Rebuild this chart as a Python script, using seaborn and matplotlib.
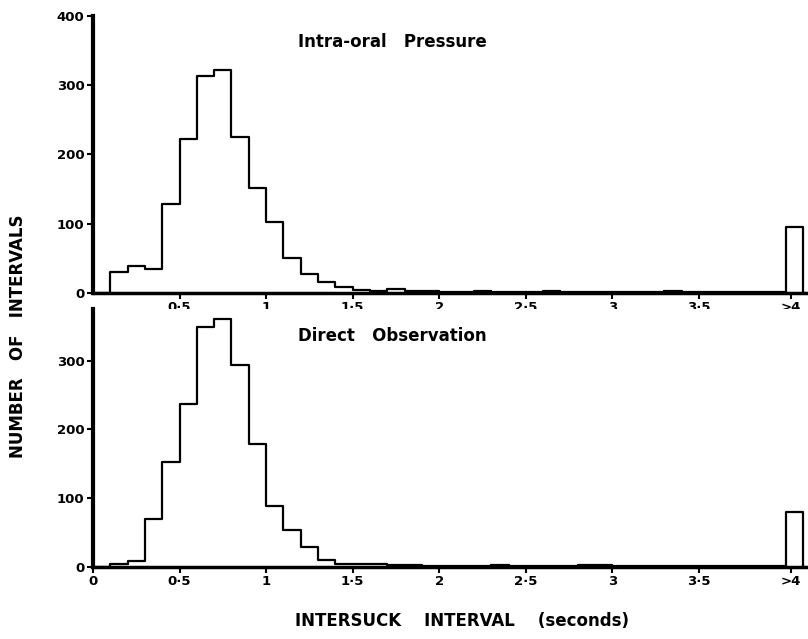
import numpy as np
import pandas as pd
import seaborn as sns
from matplotlib import pyplot as plt

# interval bins (s): 0.0-0.1 ... 3.9-4.0, last one is the ">4" bin
bin_starts = [round(0.1 * i, 1) for i in range(41)]

# intra-oral pressure counts per bin
pressure_counts = [0, 31, 39, 34, 128, 222, 314, 322, 225, 152,
                   103, 51, 28, 16, 9, 5, 3, 6, 3, 3,
                   2, 2, 3, 2, 2, 2, 3, 2, 2, 2,
                   2, 2, 2, 3, 2, 2, 2, 2, 2, 2,
                   95]

# direct observation counts per bin
observation_counts = [0, 5, 8, 70, 152, 237, 349, 361, 293, 179,
                      89, 54, 29, 10, 5, 4, 4, 3, 3, 2,
                      2, 2, 2, 3, 2, 2, 2, 2, 3, 3,
                      2, 2, 2, 2, 2, 2, 2, 2, 2, 2,
                      80]

x_ticks = [0, 0.5, 1, 1.5, 2, 2.5, 3, 3.5, 4.03]
x_ticklabels = ["0", "0·5", "1", "1·5", "2", "2·5", "3", "3·5", ">4"]
y_ticks = [0, 100, 200, 300, 400]

sns.set_style("ticks")
plt.rcParams["font.family"] = ["DejaVu Sans"]
plt.rcParams["font.weight"] = "bold"
plt.rcParams["text.color"] = "black"
plt.rcParams["axes.edgecolor"] = "black"
plt.rcParams["xtick.color"] = "black"
plt.rcParams["ytick.color"] = "black"

fig = plt.figure(figsize=(8.08, 6.39), dpi=100)
ax_top = fig.add_axes([0.115, 0.5415, 0.883, 0.4335])
ax_bot = fig.add_axes([0.115, 0.1127, 0.883, 0.4037])


def draw_panel(ax, counts, title, ymax, title_y, show_zero):
    # extra empty bin closes the ">4" bar on the right
    df = pd.DataFrame({"interval": [b + 0.05 for b in bin_starts] + [4.15],
                       "count": counts + [0]})
    edges = [b for b in bin_starts] + [4.1, 4.2]
    sns.histplot(data=df, x="interval", weights="count", bins=edges,
                 element="step", fill=False, color="black", linewidth=1.6, ax=ax)
    ax.set_xlim(0, 4.12)
    ax.set_ylim(0, ymax)
    ax.set(xlabel="", ylabel="")
    ax.spines["top"].set_visible(False)
    ax.spines["right"].set_visible(False)
    ax.spines["left"].set_linewidth(3)
    ax.spines["bottom"].set_linewidth(2.5)
    ax.set_yticks([t for t in y_ticks if t <= ymax])
    ax.set_yticklabels([str(t) for t in y_ticks if t <= ymax], fontsize=9.5, fontweight="bold")
    if show_zero:
        ax.set_xticks(x_ticks)
        ax.set_xticklabels(x_ticklabels, fontsize=9.5, fontweight="bold")
    else:
        ax.set_xticks(x_ticks[1:])
        ax.set_xticklabels(x_ticklabels[1:], fontsize=9.5, fontweight="bold")
    ax.tick_params(axis="both", direction="out", length=4, width=1.5, pad=2)
    ax.text(1.185, title_y, title, fontsize=12, fontweight="bold", va="center")


draw_panel(ax_top, pressure_counts, "Intra-oral   Pressure", 400, 362, False)
draw_panel(ax_bot, observation_counts, "Direct   Observation", 375, 336, True)

fig.text(0.022, 0.474, "NUMBER   OF   INTERVALS", rotation=90, fontsize=12,
         fontweight="bold", ha="center", va="center")
fig.text(0.572, 0.014, "INTERSUCK    INTERVAL    (seconds)", fontsize=12,
         fontweight="bold", ha="center", va="bottom")

fig.savefig("out.png", dpi=100)
